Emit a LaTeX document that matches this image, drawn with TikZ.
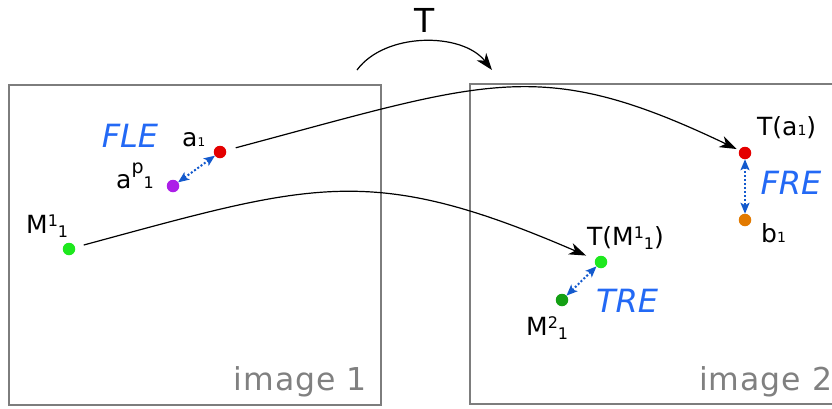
\documentclass[tikz,border=0pt]{standalone}
\usepackage{fontspec}
\setmainfont{DejaVu Sans}
\usetikzlibrary{arrows.meta}

\definecolor{ptred}{RGB}{228,0,0}
\definecolor{ptpurple}{RGB}{172,30,232}
\definecolor{ptgreen}{RGB}{30,232,30}
\definecolor{ptdkgreen}{RGB}{20,160,20}
\definecolor{ptorange}{RGB}{226,122,0}
\definecolor{errblue}{RGB}{20,90,205}
\definecolor{errtext}{RGB}{35,105,245}
\definecolor{framegray}{RGB}{125,125,125}
\definecolor{capgray}{RGB}{128,128,128}

% small index digit sitting on the baseline
\newcommand\bidx[2][14]{{\fontsize{#1}{#1}\selectfont #2}}
% raised / lowered indices
\newcommand\hiidx[2][7pt]{\raisebox{#1}{\fontsize{16}{16}\selectfont #2}}
\newcommand\loidx[1]{\raisebox{-4pt}{\fontsize{16}{16}\selectfont #1}}

\begin{document}
\begin{tikzpicture}[x=1pt,y=-1pt,
  pt/.style={circle,inner sep=0pt,outer sep=0pt,minimum size=12.5pt},
  lbl/.style={inner sep=0pt,font=\fontsize{25}{25}\selectfont},
  errlbl/.style={inner sep=0pt,text=errtext,font=\fontsize{32}{32}\selectfont\itshape},
  captxt/.style={inner sep=0pt,text=capgray,font=\fontsize{31.5}{31.5}\selectfont\addfontfeatures{LetterSpace=3}},
  frame/.style={draw=framegray,line width=1.2pt},
  maparrow/.style={draw=black,line width=1.2pt,-{Stealth[length=17pt,width=12pt,inset=5pt]}},
  errarrow/.style={draw=errblue,line width=2pt,dotted,
    {Stealth[length=11pt,width=9pt,inset=2.5pt]}-{Stealth[length=11pt,width=9pt,inset=2.5pt]}}]
\useasboundingbox (0,0) rectangle (832,408);
\clip (0,0) rectangle (832,408);

% the two image frames
\draw[frame] (9,85) rectangle (381,405);
\draw[frame] (470,84) rectangle (850,404);
\node[captxt,anchor=base east] (cap1) at (367,390) {image 1};
\node[captxt,anchor=base west] (cap2) at (699,390) {image 2};

% the transformation T
\coordinate (tA) at (357,70);
\coordinate (tB) at (492,70);
\draw[maparrow] (tA) .. controls (385,32) and (462,32) .. (tB);
\node[inner sep=0pt,anchor=base,font=\fontsize{33}{33}\selectfont] (T) at (425,32) {T};

% points in image 1
\node[pt,fill=ptred] (a1) at (220,152) {};
\node[pt,fill=ptpurple] (ap1) at (173,186) {};
\node[pt,fill=ptgreen] (M11) at (69,249) {};

% points in image 2
\node[pt,fill=ptred] (Ta1) at (745,153) {};
\node[pt,fill=ptorange] (b1) at (745,220) {};
\node[pt,fill=ptgreen] (TM11) at (601,262) {};
\node[pt,fill=ptdkgreen] (M21) at (562,300) {};

% labels
\node[lbl,anchor=base west] (la1) at (182,146) {a\bidx[12]{1}};
\node[lbl,anchor=base east] (lap1) at (154,188) {a\hiidx[15pt]{\fontsize{19}{19}\selectfont p}\bidx[16]{1}};
\node[lbl,anchor=base west] (lM11) at (26,233) {M\hiidx{1}\loidx{1}};
\node[lbl,anchor=base west] (lTa1) at (757,135) {T(a\bidx{1})};
\node[lbl,anchor=base west] (lb1) at (761,242) {b\bidx{1}};
\node[lbl,anchor=base west] (lTM11) at (587,245) {T(M\hiidx{1}\loidx{1})};
\node[lbl,anchor=base west] (lM21) at (526,335) {M\hiidx{2}\loidx{1}};

\node[errlbl] (FLE) at (130,136) {FLE};
\node[errlbl] (FRE) at (791,183) {FRE};
\node[errlbl] (TRE) at (627,301) {TRE};

% error links
\draw[errarrow] (ap1) -- (a1);
\draw[errarrow] (Ta1) -- (b1);
\draw[errarrow] (M21) -- (TM11);

% mapped correspondences
\draw[maparrow,shorten <=10pt,shorten >=3pt] (a1) .. controls (490,80) and (540,55) .. (Ta1);
\draw[maparrow,shorten <=9pt,shorten >=10pt] (M11) .. controls (313,183) and (370,162) .. (TM11);
\end{tikzpicture}
\end{document}
